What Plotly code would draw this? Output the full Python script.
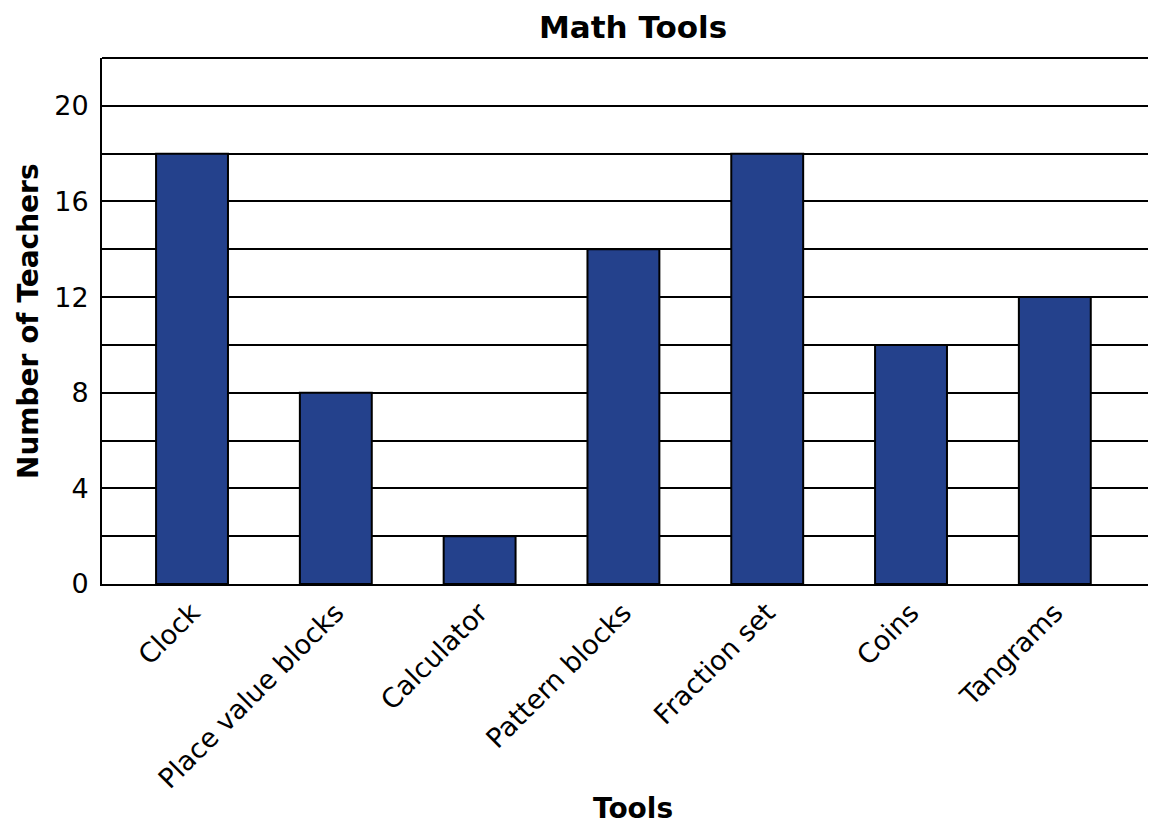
import plotly.graph_objects as go

categories = ["Clock", "Place value blocks", "Calculator", "Pattern blocks",
              "Fraction set", "Coins", "Tangrams"]
teachers = [18, 8, 2, 14, 18, 10, 12]
ytick_vals = list(range(0, 23, 2))
ytick_text = [str(v) if v % 4 == 0 and v <= 20 else "" for v in ytick_vals]

# page is rendered with an 8px body margin; figure sized to fit
W, H = 1140, 819
L, R, T, B = 94, 0, 50, 243
PW, PH = W - L - R, H - T - B
FONT = "DejaVu Sans"

def px_x(fx):
    return (fx - L) / PW

def px_y(fy):
    return (H - B - fy) / PH

fig = go.Figure(go.Bar(
    x=list(range(len(categories))), y=teachers,
    marker=dict(color="#24418c", line=dict(color="black", width=2)),
    width=0.5,
))

fig.update_layout(
    width=W, height=H,
    margin=dict(l=L, r=R, t=T, b=B, pad=0),
    paper_bgcolor="white", plot_bgcolor="white",
    showlegend=False,
    font=dict(family=FONT, color="black"),
    xaxis=dict(
        range=[-0.626, 6.648], tickmode="array",
        tickvals=list(range(len(categories))), ticktext=categories,
        tickangle=-45, tickfont=dict(size=27, family=FONT),
        showgrid=False, showline=True, linecolor="black", linewidth=2,
        ticks="", zeroline=False,
    ),
    yaxis=dict(
        range=[0, 22], tickmode="array", tickvals=ytick_vals, ticktext=ytick_text,
        tickfont=dict(size=27, family=FONT),
        showgrid=True, gridcolor="black", gridwidth=2,
        showline=True, linecolor="black", linewidth=2,
        ticks="outside", ticklen=6, tickcolor="rgba(0,0,0,0)",
        zeroline=False,
    ),
    shapes=[dict(type="line", xref="paper", yref="paper", x0=0, x1=1, y0=1, y1=1,
                 line=dict(color="black", width=2))],
    annotations=[
        dict(text="<b>Math Tools</b>", xref="paper", yref="paper", x=px_x(625),
             y=px_y(19), xanchor="center", yanchor="middle",
             showarrow=False, font=dict(size=31, family=FONT)),
        dict(text="<b>Tools</b>", xref="paper", yref="paper", x=px_x(625),
             y=px_y(H), xanchor="center", yanchor="bottom",
             showarrow=False, font=dict(size=28, family=FONT)),
        dict(text="<b>Number of Teachers</b>", xref="paper", yref="paper",
             x=px_x(20), y=0.5, xanchor="center", yanchor="middle",
             textangle=-90, showarrow=False, font=dict(size=28, family=FONT)),
    ],
)

fig.write_html("out.html")
